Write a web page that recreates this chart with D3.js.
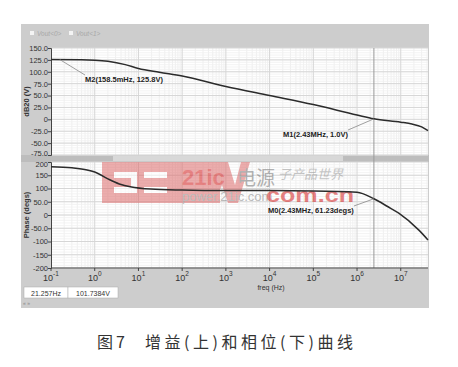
<!DOCTYPE html>
<html>
<head>
<meta charset="utf-8">
<script src="https://cdn.jsdelivr.net/npm/d3@7"></script>
<style>
  body { margin: 0; background: #fff; }
  svg { display: block; font-family: "Liberation Sans", Arial, sans-serif; }
</style>
</head>
<body>
<div id="chart"></div>
<script>
// gain curve (dB20 of Vout) vs frequency
const gainFreq = [0.1, 0.5, 1, 2, 5, 10, 30, 100, 1e3, 1e4, 1e5, 1e6, 2.43e6, 1e7, 1.8e7, 3e7, 4.2e7];
const gainVal = [125.8, 125.5, 124.5, 122, 115, 107, 99, 91, 69, 50, 31, 9, 1, -6, -10, -16, -24];
// phase curve (degs) vs frequency
const phaseFreq = [0.1, 0.3, 0.67, 1, 2.27, 4, 6.5, 19, 100, 1e3, 1e4, 1e5, 1e6, 2.43e6, 5e6, 9e6, 2.6e7, 4.2e7];
const phaseVal = [182, 178, 170, 162, 132, 115, 107, 98, 94, 92, 92, 91, 86, 61.23, 32, 7, -57, -94];
const gainTicks = [150, 125, 100, 75, 50, 25, 0, -25, -50, -75];
const gainTickLabels = ['150.0', '125.0', '100.0', '75.0', '50.0', '25.0', '0', '-25.0', '-50.0', '-75.0'];
const phaseTicks = [200, 150, 100, 50, 0, -50, -100, -150, -200];
const phaseTickLabels = ['200', '150', '100', '50.0', '0', '-50.0', '-100', '-150', '-200'];
const decades = [-1, 0, 1, 2, 3, 4, 5, 6, 7];
const markers = [
  { plot: 'gain', f: 0.1585, v: 125.8, text: 'M2(158.5mHz, 125.8V)', lx: 85, ly: 82 },
  { plot: 'gain', f: 2.43e6, v: 1.0, text: 'M1(2.43MHz, 1.0V)', lx: 283, ly: 137 },
  { plot: 'phase', f: 2.43e6, v: 61.23, text: 'M0(2.43MHz, 61.23degs)', lx: 268, ly: 213 },
];

const W = 458, H = 367;
const svg = d3.select('#chart').append('svg').attr('width', W).attr('height', H);

// grey instrument panel
svg.append('rect').attr('x', 21).attr('y', 24).attr('width', 408).attr('height', 284).attr('fill', '#cdcdcd');
svg.append('rect').attr('x', 21).attr('y', 155).attr('width', 408).attr('height', 7).attr('fill', '#bdbdbd');
svg.append('rect').attr('x', 113).attr('y', 156).attr('width', 230).attr('height', 5).attr('fill', '#d8d8d8');

const x = d3.scaleLog().domain([0.1, 4.2e7]).range([51, 428]);
const yGain = d3.scaleLinear().domain([-75, 150]).range([155, 48]);
const yPhase = d3.scaleLinear().domain([-200, 200]).range([268, 162]);

function drawPlot(y, ticks, labels, title) {
  const [y1, y0] = y.range();
  const g = svg.append('g');
  g.append('rect').attr('x', 51).attr('y', y0).attr('width', 377).attr('height', y1 - y0).attr('fill', '#fff');
  // minor vertical grid
  const minor = [];
  decades.forEach(d => { for (let k = 2; k <= 9; k++) { const f = k * Math.pow(10, d); if (f < 4.2e7) minor.push(f); } });
  g.selectAll('.vmin').data(minor).join('line')
    .attr('x1', d => x(d)).attr('x2', d => x(d)).attr('y1', y0).attr('y2', y1)
    .attr('stroke', '#ececec').attr('stroke-width', 0.8);
  // minor horizontal grid
  const step = (ticks[0] - ticks[1]) / 5;
  const hmin = d3.range(ticks[ticks.length - 1], ticks[0], step);
  g.selectAll('.hmin').data(hmin).join('line')
    .attr('x1', 51).attr('x2', 428).attr('y1', d => y(d)).attr('y2', d => y(d))
    .attr('stroke', '#f0f0f0').attr('stroke-width', 0.8);
  g.selectAll('.vmaj').data(decades.map(d => Math.pow(10, d))).join('line')
    .attr('x1', d => x(d)).attr('x2', d => x(d)).attr('y1', y0).attr('y2', y1)
    .attr('stroke', '#d6d6d6').attr('stroke-width', 1);
  g.selectAll('.hmaj').data(ticks).join('line')
    .attr('x1', 51).attr('x2', 428).attr('y1', d => y(d)).attr('y2', d => y(d))
    .attr('stroke', '#d6d6d6').attr('stroke-width', 1);
  // y axis
  const ax = d3.axisLeft(y).tickValues(ticks).tickSize(3).tickFormat((d, i) => labels[i]);
  const axg = svg.append('g').attr('transform', 'translate(51,0)').call(ax);
  axg.select('.domain').attr('stroke', '#444');
  axg.selectAll('.tick line').attr('stroke', '#444');
  axg.selectAll('text').attr('fill', '#333').style('font-size', '7.5px').attr('x', -3);
  svg.append('text').attr('transform', `translate(29,${(y0 + y1) / 2}) rotate(-90)`)
    .attr('text-anchor', 'middle').attr('fill', '#333').style('font-size', '7.5px').style('font-weight', 'bold')
    .text(title);
  return axg;
}

const gAx = drawPlot(yGain, gainTicks, gainTickLabels, 'dB20 (V)');
const pAx = drawPlot(yPhase, phaseTicks, phaseTickLabels, 'Phase (degs)');
// the two edge labels meet at the splitter bar; nudge them apart
gAx.selectAll('.tick text').filter(d => d === -75).attr('dy', '0.05em');
pAx.selectAll('.tick text').filter(d => d === 200).attr('dy', '0.55em');

// watermark
const wm = svg.append('g').attr('opacity', 0.55);
wm.append('rect').attr('x', 102).attr('y', 162).attr('width', 118).attr('height', 41).attr('fill', '#dd6b6b');
wm.append('path').attr('d', 'M114,172 H137 V193 H114 V187 H131 V178 H114 Z').attr('fill', '#fff');
wm.append('path').attr('d', 'M144,172 H167 V178 H144 Z M144,187 H167 V193 H144 Z').attr('fill', '#fff');
wm.append('path').attr('d', 'M214,162 L228,162 L235,185 L241,162 L250,162 L238,203 L228,203 L222,185 L214,203 Z').attr('fill', '#dd6b6b');
wm.append('text').attr('x', 182).attr('y', 185).attr('fill', '#d42020').style('font-size', '22px')
  .style('font-weight', 'bold').style('font-family', 'Liberation Sans, Arial').text('21ic');
wm.append('text').attr('x', 237).attr('y', 185).attr('fill', '#777').style('font-size', '19px')
  .style('font-family', 'Noto Sans CJK SC').text('电源');
wm.append('text').attr('x', 278).attr('y', 179).attr('fill', '#999').style('font-size', '13px')
  .style('font-style', 'italic').style('font-family', 'Noto Sans CJK SC').text('子产品世界');
wm.append('text').attr('x', 182).attr('y', 201).attr('fill', '#888').style('font-size', '13px')
  .style('font-family', 'Liberation Sans, Arial').text('power.21ic.com');
wm.append('text').attr('x', 266).attr('y', 202).attr('fill', '#d42020')
  .style('font-size', '21px').style('font-weight', 'bold').style('font-family', 'Liberation Sans, Arial')
  .attr('textLength', 88).attr('lengthAdjust', 'spacingAndGlyphs').text('com.cn');

// marker vertical line
svg.append('line').attr('x1', x(2.43e6)).attr('x2', x(2.43e6)).attr('y1', 48).attr('y2', 268)
  .attr('stroke', '#9a9a9a').attr('stroke-width', 1);

const line = (y) => d3.line().x(d => x(d[0])).y(d => y(d[1])).curve(d3.curveMonotoneX);
svg.append('path').datum(gainFreq.map((f, i) => [f, gainVal[i]]))
  .attr('d', line(yGain)).attr('fill', 'none').attr('stroke', '#2b2b2b').attr('stroke-width', 1.5);
svg.append('path').datum(phaseFreq.map((f, i) => [f, phaseVal[i]]))
  .attr('d', line(yPhase)).attr('fill', 'none').attr('stroke', '#2b2b2b').attr('stroke-width', 1.5);

// marker labels with leader lines
markers.forEach(m => {
  const y = m.plot === 'gain' ? yGain : yPhase;
  const t = svg.append('text').attr('x', m.lx).attr('y', m.ly).attr('fill', '#222')
    .style('font-size', '7.5px').style('font-weight', 'bold').text(m.text);
  const w = t.node().getComputedTextLength();
  const ex = m.f > 1e3 ? m.lx + w : m.lx;
  svg.append('line').attr('x1', x(m.f)).attr('y1', y(m.v)).attr('x2', ex).attr('y2', m.ly - 7)
    .attr('stroke', '#888').attr('stroke-width', 0.8);
});

// x axis (log decades with superscripts)
const xt = svg.append('g');
decades.forEach(d => {
  const t = xt.append('text').attr('x', x(Math.pow(10, d))).attr('y', 281).attr('text-anchor', 'middle')
    .attr('fill', '#333').style('font-size', '9px');
  t.append('tspan').text('10');
  t.append('tspan').attr('dy', -5).style('font-size', '6.5px').text(d);
});
xt.selectAll('.xtick').data(decades).join('line')
  .attr('x1', d => x(Math.pow(10, d))).attr('x2', d => x(Math.pow(10, d))).attr('y1', 268).attr('y2', 271)
  .attr('stroke', '#444');
svg.append('line').attr('x1', 51).attr('x2', 428).attr('y1', 268).attr('y2', 268).attr('stroke', '#444');
svg.append('text').attr('x', 271).attr('y', 290).attr('text-anchor', 'middle').attr('fill', '#333')
  .style('font-size', '7px').text('freq (Hz)');

// legend
[['Vout<0>', 30], ['Vout<1>', 69]].forEach(([name, lx]) => {
  svg.append('rect').attr('x', lx).attr('y', 31).attr('width', 4).attr('height', 4).attr('fill', '#f4f4f4');
  svg.append('text').attr('x', lx + 7).attr('y', 35.5).attr('fill', '#a8a8a8').style('font-size', '6.5px')
    .style('font-style', 'italic').text(name);
});

// status fields
svg.append('rect').attr('x', 24).attr('y', 287).attr('width', 44).attr('height', 11).attr('fill', '#fff').attr('stroke', '#aaa').attr('stroke-width', 0.5);
svg.append('rect').attr('x', 68).attr('y', 287).attr('width', 50).attr('height', 11).attr('fill', '#fff').attr('stroke', '#aaa').attr('stroke-width', 0.5);
svg.append('text').attr('x', 46).attr('y', 295.5).attr('text-anchor', 'middle').attr('fill', '#333').style('font-size', '7px').text('21.257Hz');
svg.append('text').attr('x', 93).attr('y', 295.5).attr('text-anchor', 'middle').attr('fill', '#333').style('font-size', '7px').text('101.7384V');
svg.append('text').attr('x', 23).attr('y', 305).attr('fill', '#888').style('font-size', '5px').text('« »');

// caption
svg.append('text').attr('x', 97).attr('y', 348).attr('fill', '#333').style('font-size', '16px')
  .style('font-family', '"Noto Sans CJK SC"').attr('textLength', 28).attr('lengthAdjust', 'spacing').text('图7');
svg.append('text').attr('x', 145).attr('y', 348).attr('fill', '#333').style('font-size', '16px')
  .style('font-family', '"Noto Sans CJK SC"').attr('textLength', 208).attr('lengthAdjust', 'spacing')
  .text('增益(上)和相位(下)曲线');
</script>
</body>
</html>
